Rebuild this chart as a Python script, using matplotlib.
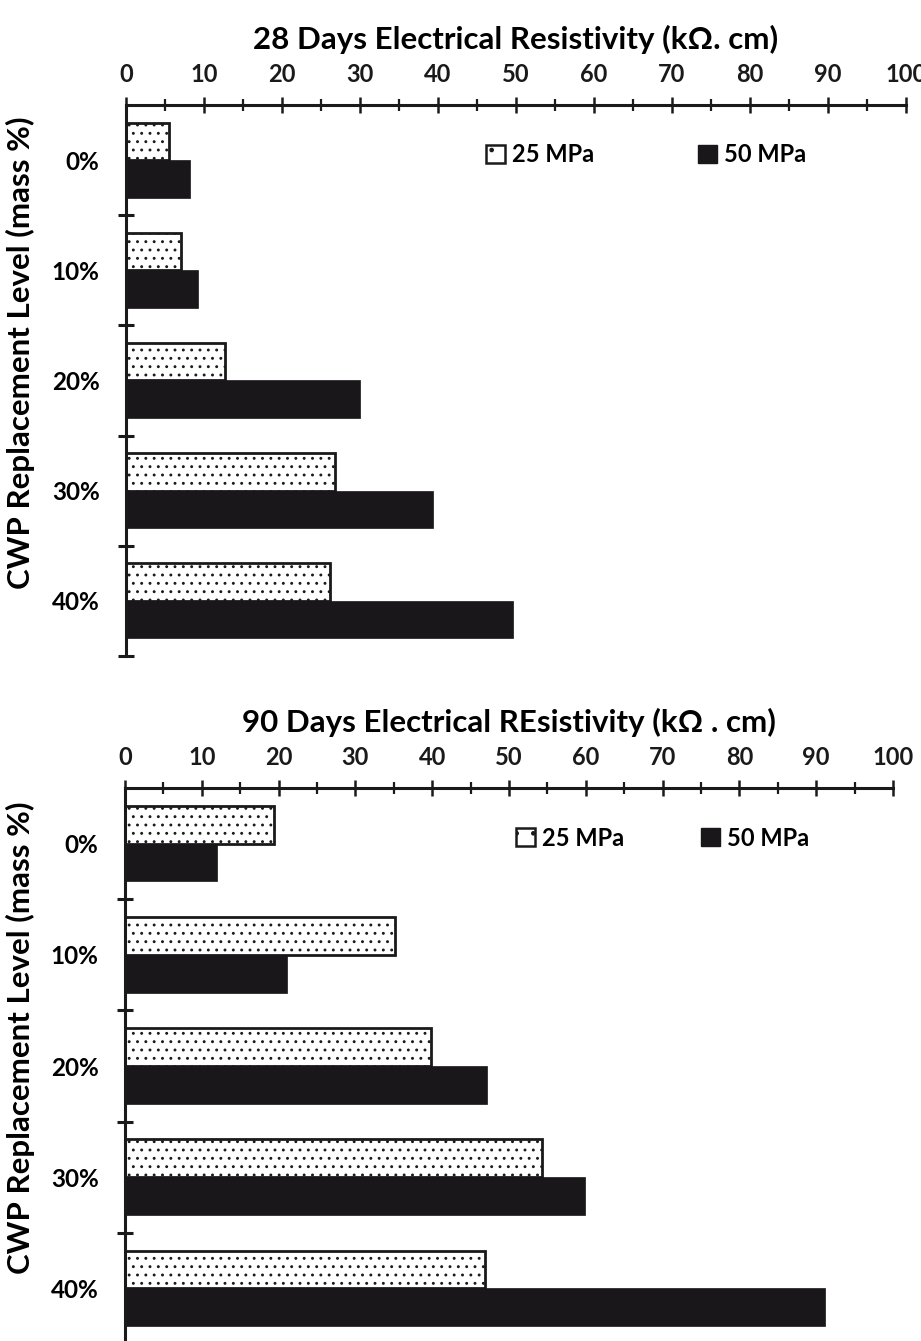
import numpy as np
import matplotlib
matplotlib.use("Agg")
import matplotlib.pyplot as plt
from matplotlib.patches import Patch
from matplotlib.ticker import MultipleLocator, FixedLocator, NullFormatter

plt.rcParams["font.family"] = ["Lato", "DejaVu Sans"]
plt.rcParams["font.weight"] = "bold"
plt.rcParams["hatch.linewidth"] = 0.9

levels = ["0%", "10%", "20%", "30%", "40%"]
series = ["25 MPa", "50 MPa"]

res28_25 = [5.5, 7.0, 12.7, 26.8, 26.2]
res28_50 = [8.2, 9.2, 30.0, 39.4, 49.6]
res90_25 = [19.4, 35.2, 39.8, 54.3, 46.9]
res90_50 = [12.0, 21.1, 47.2, 59.9, 91.1]

title28 = "28 Days Electrical Resistivity (k\u03a9. cm)"
title90 = "90 Days Electrical REsistivity (k\u03a9 . cm)"
ylab = "CWP Replacement Level (mass %)"

W, H = 921, 1341
fig = plt.figure(figsize=(W / 100, H / 100), dpi=100)


def px_axes(x0, x1, ytop, ybot):
    return fig.add_axes([x0 / W, 1 - ybot / H, (x1 - x0) / W, (ybot - ytop) / H])


def draw_panel(ax, v25, v50, title, leg_x, colspace):
    y = np.arange(len(levels))
    h = 0.34
    ax.barh(y - h / 2, v25, height=h, color="white", edgecolor="#1a1a1a",
            linewidth=2.0, hatch="..")
    ax.barh(y + h / 2, v50, height=h, color="#1a171b", edgecolor="#1a171b", linewidth=0.5)

    ax.set_xlim(0, 100)
    ax.set_ylim(len(levels) - 0.5, -0.5)

    for s in ["right", "bottom"]:
        ax.spines[s].set_visible(False)
    for s in ["left", "top"]:
        ax.spines[s].set_linewidth(2.2)
        ax.spines[s].set_color("#1a1a1a")

    ax.xaxis.set_ticks_position("top")
    ax.xaxis.set_label_position("top")
    ax.xaxis.set_major_locator(MultipleLocator(10))
    ax.xaxis.set_minor_locator(MultipleLocator(5))
    ax.tick_params(axis="x", which="major", direction="inout", length=11, width=1.8,
                   labelsize=17, pad=8, colors="#1a1a1a")
    ax.tick_params(axis="x", which="minor", direction="inout", length=9, width=1.6,
                   colors="#1a1a1a")

    ax.yaxis.set_major_locator(FixedLocator(np.arange(len(levels)) + 0.5))
    ax.yaxis.set_major_formatter(NullFormatter())
    ax.yaxis.set_minor_locator(FixedLocator(y))
    ax.set_yticklabels(levels, minor=True)
    ax.tick_params(axis="y", which="major", direction="inout", length=12, width=2.2,
                   colors="#1a1a1a")
    ax.tick_params(axis="y", which="minor", length=0, labelsize=17.5, pad=19)

    ax.set_title(title, fontsize=22.5, fontweight="bold", pad=40)
    ax.set_ylabel(ylab, fontsize=22.5, fontweight="bold")
    ax.yaxis.set_label_coords(-0.117, 0.55)

    handles = [Patch(facecolor="white", edgecolor="#1a1a1a", linewidth=1.8, hatch="."),
               Patch(facecolor="#1a171b", edgecolor="#1a171b")]
    ax.legend(handles, series, loc="center left", bbox_to_anchor=(leg_x, 0.91),
              ncol=2, frameon=False, fontsize=17, handlelength=0.8, handleheight=0.8,
              handletextpad=0.3, columnspacing=colspace, borderaxespad=0)


ax1 = px_axes(126, 906, 105, 656)
draw_panel(ax1, res28_25, res28_50, title28, 0.45, 4.4)

ax2 = px_axes(125, 893, 788, 1344)
draw_panel(ax2, res90_25, res90_50, title90, 0.497, 3.25)

fig.savefig("out.png", dpi=100)
